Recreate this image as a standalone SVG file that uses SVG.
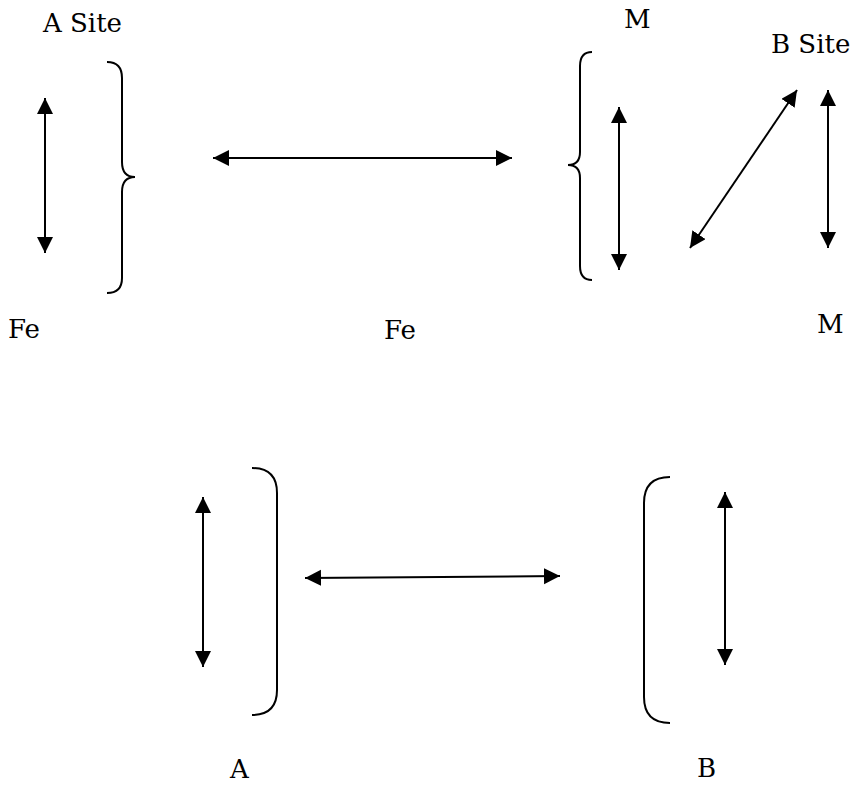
<svg xmlns="http://www.w3.org/2000/svg" width="859" height="785" viewBox="0 0 859 785">
<defs>
<marker id="ah" markerUnits="userSpaceOnUse" markerWidth="17" markerHeight="17" refX="16" refY="8" orient="auto-start-reverse">
<path d="M0,0 L16,8 L0,16 z" fill="#000"/>
</marker>
</defs>
<style>
text{font-family:'DejaVu Serif',serif;font-size:26px;fill:#000}
.br{fill:none;stroke:#000;stroke-width:2}
.ar{stroke:#000;stroke-width:2;marker-start:url(#ah);marker-end:url(#ah)}
</style>
<rect width="859" height="785" fill="#fff"/>
<g id="labels">
<text x="43" y="32">A Site</text>
<text x="624" y="28">M</text>
<text x="771" y="53">B Site</text>
<text x="8" y="338">Fe</text>
<text x="384" y="339">Fe</text>
<text x="817" y="333">M</text>
<text x="230" y="778">A</text>
<text x="697" y="777">B</text>
</g>
<g id="brace-a-site"><path class="br" d="M107,62 Q122,62 122,78 L122,162 Q122,177 135,177 Q122,177 122,192 L122,278 Q122,293 107,293"/></g>
<g id="brace-m"><path class="br" d="M592,52 Q580,52 580,66 L580,152 Q580,165 568,165 Q580,165 580,178 L580,266 Q580,280 592,280"/></g>
<g id="bracket-a"><path class="br" d="M252,468 Q277,468 277,493 L277,690 Q277,715 252,715"/></g>
<g id="bracket-b"><path class="br" d="M670,477 Q644,477 644,503 L644,697 Q644,723 670,723"/></g>
<g id="connectors">
<line class="ar" x1="45" y1="98" x2="45" y2="253"/>
<line class="ar" x1="213" y1="158" x2="512" y2="158"/>
<line class="ar" x1="619" y1="107" x2="619" y2="270"/>
<line class="ar" x1="690" y1="248" x2="797" y2="90"/>
<line class="ar" x1="828" y1="90" x2="828" y2="248"/>
<line class="ar" x1="203" y1="497" x2="203" y2="667"/>
<line class="ar" x1="305" y1="578" x2="560" y2="576"/>
<line class="ar" x1="725" y1="492" x2="725" y2="665"/>
</g>
</svg>
